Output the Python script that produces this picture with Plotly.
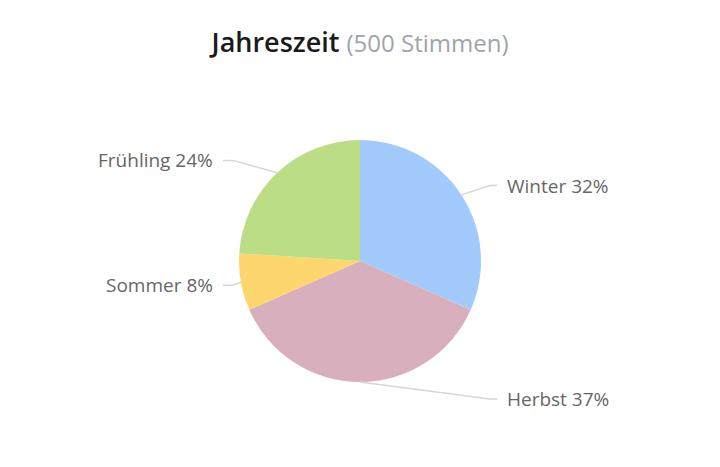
import math
import plotly.graph_objects as go

# Data
labels = ["Winter", "Herbst", "Sommer", "Frühling"]
votes = [158, 184, 38, 120]
colors = ["#a2cafc", "#d8b0bd", "#fed66e", "#badd86"]
title_main = "Jahreszeit"
title_sub = "(500 Stimmen)"

W, H = 720, 467
cx, cy, r = 360.0, 261.0, 121.0  # pie centre / radius in px
label_dist = 17.0
font_family = "Open Sans"

fig = go.Figure()
fig.add_trace(go.Pie(
    labels=labels, values=votes, sort=False, direction="clockwise", rotation=0,
    marker=dict(colors=colors, line=dict(width=0)),
    textinfo="none", hoverinfo="label+percent", showlegend=False,
    domain=dict(x=[(cx - r) / W, (cx + r) / W], y=[1 - (cy + r) / H, 1 - (cy - r) / H]),
))

def px(x):
    return x / W

def py(y):
    return 1 - y / H

total = sum(votes)
cum = 0.0
shapes = []
annotations = []
for lab, v in zip(labels, votes):
    frac = v / total
    mid = (cum + frac / 2) * 2 * math.pi
    cum += frac
    ex = cx + r * math.sin(mid)
    ey = cy - r * math.cos(mid)
    ly = cy - (r + label_dist) * math.cos(mid)
    right = math.sin(mid) >= -1e-9
    if right:
        tx = cx + r + 24
        lx_end = 497
        elbow = lx_end - 7
        anchor = "left"
    else:
        tx = cx - r - 24
        lx_end = 223
        elbow = lx_end + 10
        anchor = "right"
    path = f"M {px(lx_end)} {py(ly)} L {px(elbow)} {py(ly)} L {px(ex)} {py(ey)}"
    shapes.append(dict(type="path", xref="paper", yref="paper", path=path,
                       line=dict(color="#d6d6d6", width=1.5)))
    pct = round(frac * 100)
    annotations.append(dict(
        x=px(tx), y=py(ly), xref="paper", yref="paper", xanchor=anchor, yanchor="middle",
        text=f"{lab} {pct}%", showarrow=False,
        font=dict(family=font_family, size=19, color="#666666"),
    ))

fig.update_layout(
    width=W, height=H,
    margin=dict(l=0, r=0, t=0, b=0),
    paper_bgcolor="white", plot_bgcolor="white",
    title=dict(
        text=f"<span style='color:#1a1a1a;font-size:27px;font-weight:600'>{title_main}</span> "
             f"<span style='color:#a0a4ab;font-size:24px;font-weight:400'>{title_sub}</span>",
        x=0.5, xanchor="center", y=1 - 43 / H, yanchor="middle", yref="container",
        font=dict(family=font_family, size=27, color="#1a1a1a"),
    ),
    shapes=shapes,
    annotations=annotations,
)

fig.write_html("out.html")
